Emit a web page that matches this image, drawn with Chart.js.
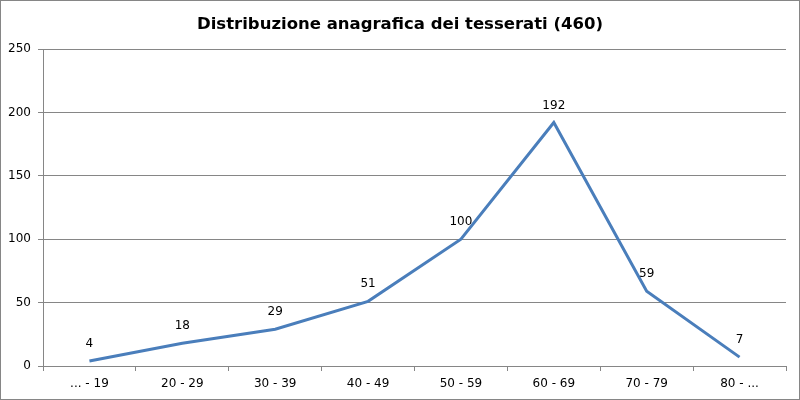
<!DOCTYPE html>
<html>
<head>
<meta charset="utf-8">
<script src="https://cdn.jsdelivr.net/npm/chart.js@4"></script>
<style>
  body { margin: 0; background: #fff; }
  #wrap { width: 800px; height: 400px; }
</style>
</head>
<body>
<div id="wrap"><canvas id="grafico"></canvas></div>
<script>
// dati
const titolo = "Distribuzione anagrafica dei tesserati (460)";
const fasce = ["... - 19", "20 - 29", "30 - 39", "40 - 49", "50 - 59", "60 - 69", "70 - 79", "80 - ..."];
const tesserati = [4, 18, 29, 51, 100, 192, 59, 7];
const tickY = [0, 50, 100, 150, 200, 250];

const FONT = "'DejaVu Sans', Verdana, sans-serif";
const GRIGIO = "#868686";

// titolo, etichette dei valori e bordo esterno
const decorazioni = {
  id: "decorazioni",
  afterDatasetsDraw(chart) {
    const ctx = chart.ctx;
    const meta = chart.getDatasetMeta(0);
    ctx.save();
    ctx.fillStyle = "#000";
    ctx.font = "12px " + FONT;
    ctx.textAlign = "center";
    ctx.textBaseline = "middle";
    meta.data.forEach((p, i) => {
      ctx.fillText(String(tesserati[i]), p.x, p.y - 17);
    });
    ctx.font = "bold 16.5px " + FONT;
    ctx.fillText(titolo, 400, 25);
    ctx.strokeStyle = GRIGIO;
    ctx.lineWidth = 1;
    ctx.strokeRect(0.5, 0.5, chart.width - 1, chart.height - 1);
    ctx.restore();
  }
};

const ctx = document.getElementById("grafico").getContext("2d");
new Chart(ctx, {
  type: "line",
  data: {
    labels: fasce,
    datasets: [{
      data: tesserati,
      borderColor: "#4a7ebb",
      borderWidth: 3,
      pointRadius: 0,
      tension: 0,
      fill: false
    }]
  },
  options: {
    responsive: true,
    maintainAspectRatio: false,
    animation: false,
    layout: { padding: { top: 49, right: 14, bottom: 0, left: 0 } },
    plugins: {
      legend: { display: false },
      title: { display: false },
      tooltip: { enabled: false }
    },
    scales: {
      x: {
        offset: true,
        grid: { offset: true, drawOnChartArea: false, drawTicks: true, tickLength: 5, color: GRIGIO },
        border: { color: GRIGIO },
        ticks: { color: "#000", font: { family: FONT, size: 12 }, padding: 6, maxRotation: 0 },
        afterFit(scale) { scale.height = 34; }
      },
      y: {
        min: 0,
        max: 250,
        afterBuildTicks(scale) { scale.ticks = tickY.map(v => ({ value: v })); },
        grid: { color: GRIGIO, tickLength: 5 },
        border: { color: GRIGIO },
        ticks: { color: "#000", font: { family: FONT, size: 12 }, padding: 7 },
        afterFit(scale) { scale.width = 43; }
      }
    }
  },
  plugins: [decorazioni]
});
</script>
</body>
</html>
